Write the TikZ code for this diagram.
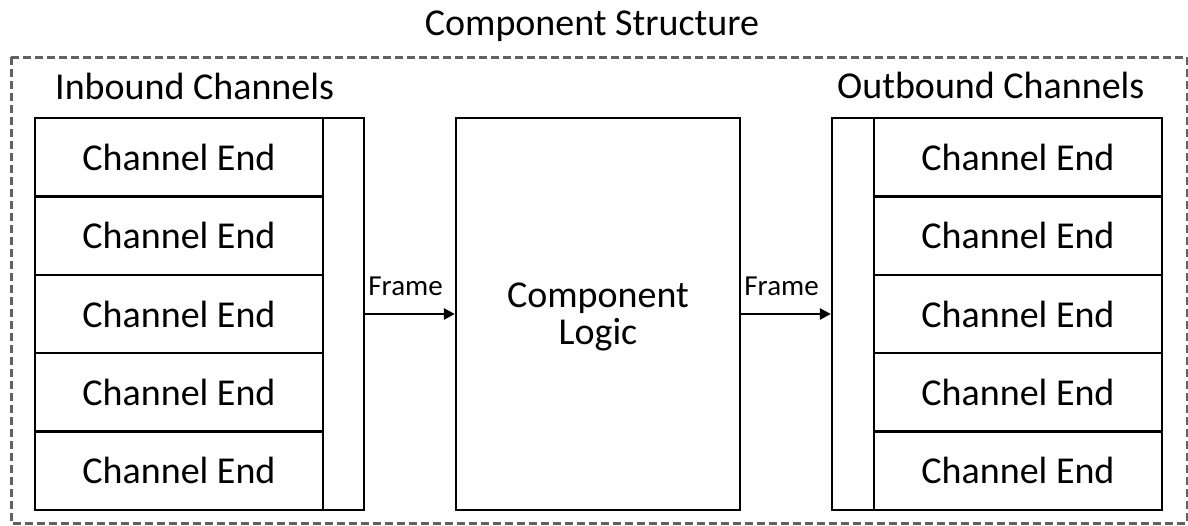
\documentclass[tikz,border=0pt]{standalone}
\usepackage{fontspec}
\setmainfont{Carlito}
\usetikzlibrary{arrows.meta}
\begin{document}
\begin{tikzpicture}[x=1pt,y=-1pt,
  bigtext/.style={font=\fontsize{38}{44}\selectfont},
  smalltext/.style={font=\fontsize{29}{32}\selectfont},
  box/.style={draw=black,line width=2.3pt,inner sep=0pt},
  chanbox/.style={box,minimum width=288pt,minimum height=78.4pt,bigtext},
  frameline/.style={draw=black!62,line width=3pt,dash pattern=on 8pt off 4pt},
  arr/.style={line width=2.5pt,-{Triangle[length=11pt,width=11pt]}}]
\useasboundingbox (0,0) rectangle (1188,525);
% outer dashed frame
\draw[frameline] (11,57) rectangle (1187,523);
\node[bigtext,anchor=base] (title) at (592,35) {Component Structure};
% inbound group
\node[anchor=base west,bigtext,inner sep=0pt] (inlbl) at (55,99) {Inbound Channels};
\node[box,minimum width=329pt,minimum height=392pt] (inbox) at (199.5,314) {};
\foreach \i in {0,...,4}{
  \node[chanbox] (in\i) at (179,157.2+78.4*\i) {Channel End};
}
% component logic
\node[box,minimum width=284pt,minimum height=392pt] (logic) at (598,314) {};
\node[align=center,font=\fontsize{38}{37}\selectfont,inner sep=0pt,yshift=-3pt]
  (logictext) at (logic.center) {Component\\Logic};
% outbound group
\node[anchor=base west,bigtext,inner sep=0pt] (outlbl) at (837,98.5) {Outbound Channels};
\node[box,minimum width=330pt,minimum height=392pt] (outbox) at (997,314) {};
\foreach \i in {0,...,4}{
  \node[chanbox] (out\i) at (1018,157.2+78.4*\i) {Channel End};
}
% arrows
\draw[arr] (inbox.east) -- (logic.west)
  node[pos=0,anchor=south west,smalltext,inner sep=0pt,xshift=2pt,yshift=17pt] {Frame};
\draw[arr] (logic.east) -- (outbox.west)
  node[pos=0,anchor=south west,smalltext,inner sep=0pt,xshift=2pt,yshift=17pt] {Frame};
\end{tikzpicture}
\end{document}
